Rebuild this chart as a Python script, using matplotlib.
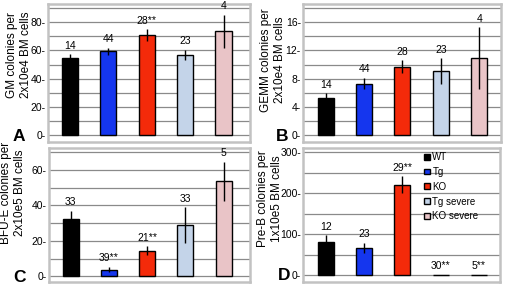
import matplotlib
matplotlib.use("Agg")
import matplotlib.pyplot as plt
import numpy as np

plt.rcParams['font.family'] = ['Liberation Sans', 'DejaVu Sans']

groups = ["WT", "Tg", "KO", "Tg severe", "KO severe"]
colors = ["#000000", "#1536ee", "#f42a0a", "#c4d4e9", "#e9c4c7"]

gm_vals = [54.5, 59.5, 71, 57, 73.5]
gm_err = [3, 2.5, 4, 3.5, 12]
gm_n = ["14", "44", "28**", "23", "4"]

gemm_vals = [5.2, 7.3, 9.7, 9.1, 10.9]
gemm_err = [0.7, 0.8, 0.9, 1.8, 4.4]
gemm_n = ["14", "44", "28", "23", "4"]

bfue_vals = [32.5, 3.8, 14.5, 29, 53.5]
bfue_err = [4.5, 1.5, 2.5, 10, 11]
bfue_n = ["33", "39**", "21**", "33", "5"]

preb_vals = [82, 67, 221, 1, 1]
preb_err = [16, 13, 21, 0, 0]
preb_n = ["12", "23", "29**", "30**", "5**"]

W, H = 506, 285
fig = plt.figure(figsize=(W / 100, H / 100), dpi=100)


def px_axes(l, r, t, b):
    return fig.add_axes([l / W, 1 - b / H, (r - l) / W, (b - t) / H])


panels = [
    dict(box=(48, 250, 4, 142), vals=gm_vals, err=gm_err, n=gm_n,
         ylim=(-5, 93), grid=10, ticks=[0, 20, 40, 60, 80], gmax=90,
         xlim=(-0.57, 4.69), label="GM colonies per\n2x10e4 BM cells",
         lab_xy=(19, 55), letter="A", let_xy=(13, 141)),
    dict(box=(303, 501, 4, 142), vals=gemm_vals, err=gemm_err, n=gemm_n,
         ylim=(-1.0, 18.6), grid=2, ticks=[0, 4, 8, 12, 16], gmax=18,
         xlim=(-0.59, 4.57), label="GEMM colonies per\n2x10e4 BM cells",
         lab_xy=(273, 60), letter="B", let_xy=(276, 141)),
    dict(box=(49, 250, 148, 282), vals=bfue_vals, err=bfue_err, n=bfue_n,
         ylim=(-3.2, 72.3), grid=10, ticks=[0, 20, 40, 60], gmax=70,
         xlim=(-0.57, 4.69), label="BFU-E colonies per\n2x10e5 BM cells",
         lab_xy=(13, 193), letter="C", let_xy=(13, 282)),
    dict(box=(303, 500, 148, 282), vals=preb_vals, err=preb_err, n=preb_n,
         ylim=(-16.4, 310.7), grid=50, ticks=[0, 100, 200, 300], gmax=300,
         xlim=(-0.59, 4.55), label="Pre-B colonies per\n1x10e5 BM cells",
         lab_xy=(270, 199), letter="D", let_xy=(278, 280)),
]

x = np.arange(len(groups))
for i, p in enumerate(panels):
    ax = px_axes(*p["box"])
    ax.set_xlim(*p["xlim"])
    ax.set_ylim(*p["ylim"])
    for g in np.arange(0, p["gmax"] + 0.001, p["grid"]):
        ax.axhline(g, color="#8a8a8a", lw=0.9, zorder=0)
    bars = ax.bar(x, p["vals"], width=0.42, color=colors, edgecolor="black",
                  linewidth=1.0, zorder=2)
    errs = np.array(p["err"])
    vals = np.array(p["vals"])
    mask = errs > 0
    ax.errorbar(x[mask], vals[mask], yerr=errs[mask], fmt="none",
                ecolor="black", elinewidth=1.0, capsize=0, zorder=3)
    for xi, v, e, t in zip(x, vals, errs, p["n"]):
        ax.annotate(t, (xi, v + e), xytext=(0, 2.5), textcoords="offset points",
                    ha="center", va="bottom", fontsize=7.5, zorder=4)
    ax.set_xticks([])
    ax.set_yticks(p["ticks"])
    ax.set_yticklabels([f"{t}-" for t in p["ticks"]], fontsize=7.5)
    ax.tick_params(axis="y", length=0, pad=1.5)
    for s in ax.spines.values():
        s.set_color("#c2c2c2")
        s.set_linewidth(1.8)
    fig.text(p["lab_xy"][0] / W, 1 - p["lab_xy"][1] / H, p["label"],
             rotation=90, ha="center", va="center", fontsize=8.5,
             linespacing=1.15, multialignment="center")
    fig.text(p["let_xy"][0] / W, 1 - p["let_xy"][1] / H, p["letter"],
             ha="left", va="baseline", fontsize=12.5, fontweight="bold")
    if i == 3:
        leg = ax.legend(bars, groups, loc="upper left",
                        bbox_to_anchor=(0.615, 0.97), frameon=False,
                        fontsize=7, handlelength=0.55, handleheight=0.55,
                        handletextpad=0.3, labelspacing=0.5, borderpad=0,
                        borderaxespad=0)

fig.savefig("out.png", dpi=100)
